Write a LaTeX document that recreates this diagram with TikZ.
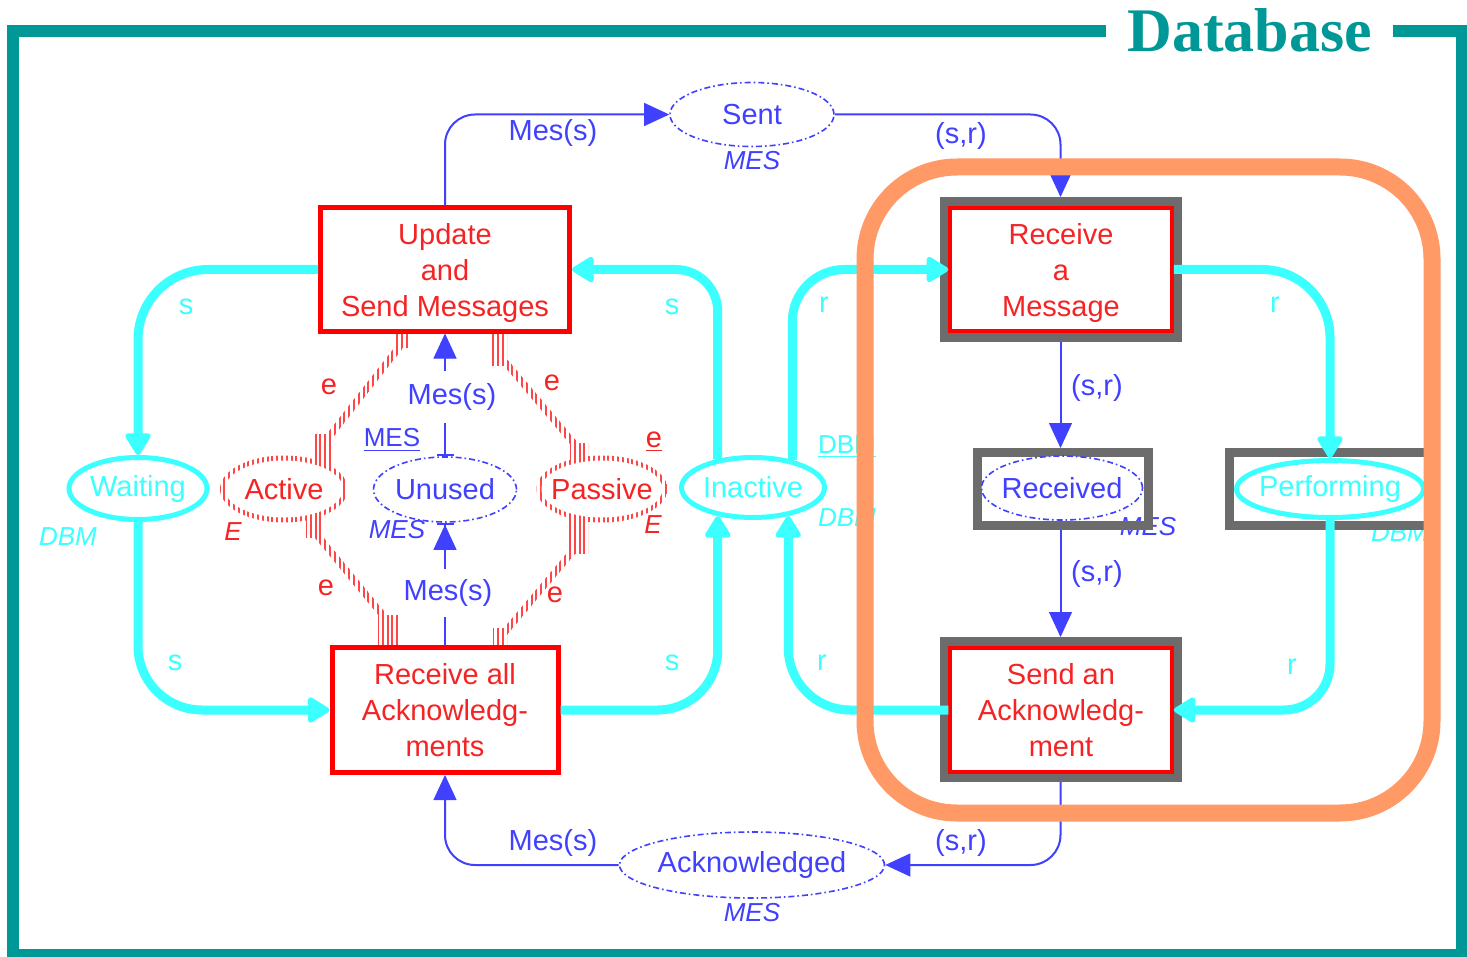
\documentclass[tikz,border=0pt]{standalone}
\usepackage{fontspec}
\setmainfont{Liberation Sans}
\newfontfamily\titleserif{Liberation Serif}
\usetikzlibrary{shapes.geometric,arrows.meta}

\definecolor{frameteal}{RGB}{0,151,151}
\definecolor{hiorange}{RGB}{255,153,102}
\definecolor{boxred}{RGB}{255,0,0}
\definecolor{textred}{RGB}{245,35,35}
\definecolor{netblue}{RGB}{64,64,255}
\definecolor{netcyan}{RGB}{60,255,255}
\definecolor{framegray}{RGB}{108,108,108}
\definecolor{hatchred}{RGB}{255,70,70}

\newcommand{\pnmain}{\fontsize{14.5pt}{18pt}\selectfont}
\newcommand{\pnsmall}{\fontsize{13pt}{15pt}\selectfont}
% vertical red hatching inside a clipped region (read arcs, E places)
\newcommand{\hatchzone}[1]{%
  \begin{scope}
    \clip #1;
    \foreach \hx in {210,214.8,...,700} {\draw[hatchline] (\hx,320) -- (\hx,670);}
  \end{scope}}

\begin{document}
\begin{tikzpicture}[x=0.5pt,y=-0.5pt,
  hatchline/.style={draw=hatchred, line width=0.95pt},
  trans/.style={rectangle, draw=boxred, line width=2.5pt, fill=white, text=textred,
    font=\pnmain, align=center, inner sep=1pt, text depth=0pt},
  grayframe/.style={rectangle, draw=framegray, line width=4.5pt, inner sep=0pt},
  place/.style={ellipse, inner xsep=-8pt, inner ysep=0pt, font=\pnmain, fill=white},
  cyanplace/.style={place, draw=netcyan, line width=2.5pt, text=netcyan},
  blueplace/.style={place, draw=netblue, line width=0.8pt, text=netblue,
    dash pattern=on 3pt off 1.5pt on 0.8pt off 1.5pt},
  redplace/.style={place, text=textred},
  cyanarc/.style={draw=netcyan, line width=4.5pt,
    -{Triangle[round,length=12pt,width=14pt,line width=2.5pt]}},
  bluearc/.style={draw=netblue, line width=1pt,
    -{Triangle[length=12.5pt,width=11.5pt,line width=0.5pt]}},
  bluetxt/.style={text=netblue, font=\pnmain, inner sep=1pt},
  cyantxt/.style={text=netcyan, font=\pnmain, inner sep=1pt},
  redtxt/.style={text=textred, font=\pnmain, inner sep=1pt},
  smallit/.style={font=\pnsmall\itshape, inner sep=1pt},
]
\useasboundingbox (0,0) rectangle (1467,957);
\fill[white] (0,0) rectangle (1467,957);

% inscriptions partly covered by the grey frames
\node[smallit, text=netblue] (mesRecv) at (1148,527) {MES};
\node[smallit, text=netcyan] (dbmPerf) at (1400,533) {DBM};

% read arcs between Active/Passive and the two transitions
\hatchzone{(396,333) rectangle (408,347)}
\hatchzone{(398,343) -- (407,343) -- (331,440) -- (322,440) -- cycle}
\hatchzone{(314,434) rectangle (332,466)}
\hatchzone{(491,333) rectangle (507,365)}
\hatchzone{(499,360) -- (508,360) -- (584,450) -- (575,450) -- cycle}
\hatchzone{(570,443) rectangle (588,464)}
\hatchzone{(306,512) rectangle (322,537)}
\hatchzone{(310,532) -- (319,532) -- (393,622) -- (384,622) -- cycle}
\hatchzone{(378,615) rectangle (400,648)}
\hatchzone{(568,512) rectangle (588,553)}
\hatchzone{(571,548) -- (580,548) -- (507,635) -- (498,635) -- cycle}
\hatchzone{(493,628) rectangle (507,648)}
% hatched outlines of the E places
\hatchzone{(284,489) ellipse [x radius=32pt, y radius=16.75pt]}
\hatchzone{(602,489) ellipse [x radius=32.75pt, y radius=16.75pt]}

% grey frames of the highlighted elements
\node[grayframe, minimum width=116.5pt, minimum height=68pt] (rmFrame) at (1060.5,269.5) {};
\node[grayframe, minimum width=116.5pt, minimum height=68pt] (saFrame) at (1060.5,709.5) {};
\node[grayframe, minimum width=85.5pt, minimum height=36.5pt] (recFrame) at (1063,489) {};
\node[grayframe, minimum width=99.25pt, minimum height=36.5pt] (perfFrame) at (1328.75,489) {};

% transitions
\node[trans, minimum width=124.5pt, minimum height=61.5pt] (update) at (445,269.5) {Update\\and\\Send Messages};
\node[trans, minimum width=113pt, minimum height=62.5pt] (recvAll) at (445,710) {Receive all\\Acknowledg-\\ments};
\node[trans, line width=2pt, minimum width=110.75pt, minimum height=61.5pt] (recvMsg) at (1061,269.5) {Receive\\a\\Message};
\node[trans, line width=2pt, minimum width=110.75pt, minimum height=62pt] (sendAck) at (1061,710) {Send an\\Acknowledg-\\ment};

% places
\node[blueplace, minimum width=82pt, minimum height=32pt] (sent) at (752,114.5) {Sent};
\node[blueplace, minimum width=132.5pt, minimum height=33pt] (acked) at (752,865) {Acknowledged};
\node[blueplace, minimum width=71.5pt, minimum height=32.5pt] (unused) at (445,489.5) {Unused};
\node[blueplace, minimum width=80.5pt, minimum height=32pt] (received) at (1062,488) {Received};
\node[cyanplace, minimum width=69pt, minimum height=31pt] (waiting) at (138,488.5) {Waiting};
\node[cyanplace, minimum width=71.5pt, minimum height=30pt] (inactive) at (753,487.5) {Inactive};
\node[cyanplace, minimum width=93.5pt, minimum height=28.5pt] (performing) at (1330,489) {Performing};
\node[redplace, minimum width=59pt, minimum height=28.5pt] (active) at (284,489) {Active};
\node[redplace, minimum width=60.5pt, minimum height=28.5pt] (passive) at (602,489) {Passive};

% DBM arcs
\draw[cyanarc, rounded corners=35pt] (update.west) -| (waiting.north);
\draw[cyanarc, rounded corners=32pt] (waiting.south) |- (recvAll.west);
\draw[cyanarc, rounded corners=30pt] (recvAll.east) -| (inactive.219);
\draw[cyanarc, rounded corners=21pt] (inactive.141) |- (update.east);
\draw[cyanarc, rounded corners=26pt] (inactive.35) |- (recvMsg.west);
\draw[cyanarc, rounded corners=31pt] (sendAck.west) -| (inactive.321);
\draw[cyanarc, rounded corners=34pt] (recvMsg.east) -| (performing.north);
\draw[cyanarc, rounded corners=23pt] (performing.south) |- (sendAck.east);

% MES arcs
\draw[bluearc, rounded corners=15pt] (update.north) |- (sent.west);
\draw[bluearc, rounded corners=15pt] (sent.east) -| (rmFrame.north);
\draw[bluearc] (rmFrame.south) -- (rmFrame.south |- recFrame.north);
\draw[bluearc] (recFrame.south -| saFrame.north) -- (saFrame.north);
\draw[bluearc, rounded corners=15pt] (saFrame.south) |- (acked.east);
\draw[bluearc, rounded corners=15pt] (acked.west) -| (recvAll.south);
\draw[bluearc, {Bar[width=8.5pt,line width=1pt]}-{Triangle[length=12.5pt,width=11.5pt,line width=0.5pt]}] (unused.north) -- (update.south);
\draw[bluearc, -{Triangle[length=12.5pt,width=11.5pt,line width=0.5pt]Bar[width=8.5pt,line width=1pt]}] (recvAll.north) -- (unused.south);

% arc inscriptions
\node[bluetxt] (lblSentIn) at (553,133) {Mes(s)};
\node[bluetxt] (lblSentOut) at (961,136) {(s,r)};
\node[bluetxt] (lblRecvIn) at (1097,388) {(s,r)};
\node[bluetxt] (lblRecvOut) at (1097,574) {(s,r)};
\node[bluetxt] (lblAckIn) at (961,843) {(s,r)};
\node[bluetxt] (lblAckOut) at (553,843) {Mes(s)};
\node[bluetxt, fill=white, inner ysep=6pt] (lblFree) at (452,397) {Mes(s)};
\node[bluetxt, fill=white, inner ysep=5pt] (lblUse) at (448,593) {Mes(s)};
\node[redtxt] (eA1) at (329,387) {e};
\node[redtxt] (eA2) at (552,383) {e};
\node[redtxt] (eA3) at (326,588) {e};
\node[redtxt] (eA4) at (555,595) {e};
\node[cyantxt] (sA) at (186,307) {s};
\node[cyantxt] (sB) at (175,663) {s};
\node[cyantxt] (sC) at (672,663) {s};
\node[cyantxt] (sD) at (672,307) {s};
\node[cyantxt] (rA) at (824,305) {r};
\node[cyantxt] (rB) at (822,663) {r};
\node[cyantxt] (rC) at (1275,305) {r};
\node[cyantxt] (rD) at (1292,667) {r};

% colour sets and initial markings
\node[bluetxt, font=\pnsmall] (mesInit) at (392,440) {\underline{MES}};
\node[smallit, text=netblue] (mesUnused) at (397,530) {MES};
\node[smallit, text=netblue] (mesSent) at (752,161) {MES};
\node[smallit, text=netblue] (mesAck) at (752,913) {MES};
\node[smallit, text=netcyan] (dbmWait) at (68,537) {DBM};
\node[cyantxt, font=\pnsmall] (dbmInit) at (847,447) {\underline{DBM}};
\node[smallit, text=netcyan] (dbmInact) at (847,518) {DBM};
\node[smallit, text=textred] (eAct) at (233,532) {E};
\node[smallit, text=textred] (ePas) at (653,525) {E};
\node[redtxt] (eInit) at (654,442) {\underline{e}};

% highlighted sub-net
\draw[hiorange, line width=8.5pt, rounded corners=46pt] (865,167) rectangle (1432,813);

% outer frame with title
\draw[frameteal, line width=6pt] (13,31) rectangle (1462,955);
\node[fill=white, text=frameteal, font=\titleserif\bfseries\fontsize{31pt}{34pt}\selectfont,
  anchor=base, inner xsep=10.5pt, inner ysep=2pt] (dbTitle) at (1249.5,52) {Database};
\end{tikzpicture}
\end{document}
